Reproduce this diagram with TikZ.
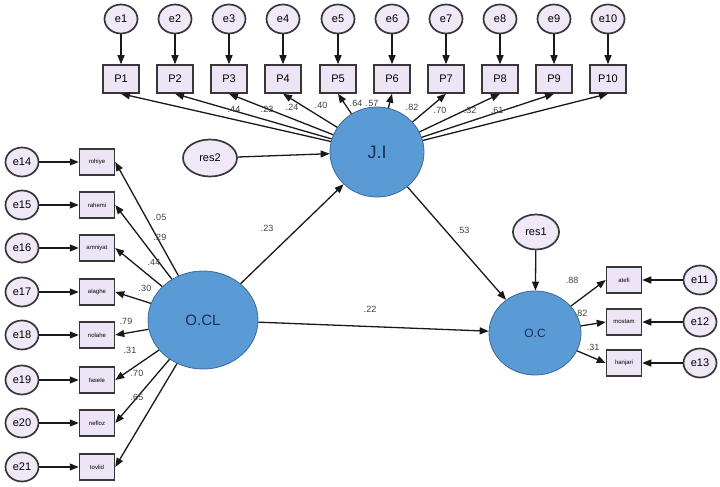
\documentclass[tikz,border=0pt]{standalone}
\usepackage{fontspec}
\setmainfont{Liberation Sans}
\usetikzlibrary{shapes.geometric, arrows.meta}

\definecolor{latentblue}{RGB}{91,155,213}
\definecolor{latentline}{RGB}{60,105,150}
\definecolor{latenttext}{RGB}{25,45,90}
\definecolor{errfill}{RGB}{241,232,247}
\definecolor{boxfill}{RGB}{237,229,245}
\definecolor{edgegray}{RGB}{55,55,55}

\begin{document}
\begin{tikzpicture}[x=1pt, y=-1pt, >={Triangle[length=9pt,width=7pt]},
    err/.style={draw=edgegray, line width=1.7pt, ellipse, fill=errfill, minimum width=33pt, minimum height=29pt, inner sep=0pt, font=\fontsize{11}{12}\selectfont},
    res/.style={err, minimum width=54pt, minimum height=37pt},
    obs/.style={draw=edgegray, line width=1.5pt, rectangle, fill=boxfill, minimum width=36pt, minimum height=28pt, inner sep=1pt, font=\fontsize{11}{12}\selectfont},
    item/.style={obs, minimum width=35pt, minimum height=26pt, font=\fontsize{6}{7}\selectfont},
    latent/.style={draw=latentline, line width=0.8pt, ellipse, fill=latentblue, inner sep=0pt, text=latenttext},
    coef/.style={inner sep=0pt, text=black!75, font=\fontsize{9}{10}\selectfont},
    path/.style={->, line width=1.3pt, draw=black!90}]
    \useasboundingbox (0,0) rectangle (720,487);

    % Latent variables
    \node[latent, minimum width=94pt, minimum height=90pt, font=\fontsize{18}{20}\selectfont] (ji) at (377,152) {J.I};
    \node[latent, minimum width=110pt, minimum height=98pt, font=\fontsize{15}{17}\selectfont] (ocl) at (203,320) {O.CL};
    \node[latent, minimum width=92pt, minimum height=84pt, font=\fontsize{12}{14}\selectfont] (oc) at (535,333) {O.C};

    % Residuals
    \node[res] (res2) at (210,158) {res2};
    \node[res, minimum width=46pt, minimum height=35pt] (res1) at (536,232) {res1};

    % J.I indicators
    \node[obs] (p1) at (121,79) {P1};
    \node[obs] (p2) at (175,79) {P2};
    \node[obs] (p3) at (229,79) {P3};
    \node[obs] (p4) at (283,79) {P4};
    \node[obs] (p5) at (338,79) {P5};
    \node[obs] (p6) at (392,79) {P6};
    \node[obs] (p7) at (446,79) {P7};
    \node[obs] (p8) at (500,79) {P8};
    \node[obs] (p9) at (554,79) {P9};
    \node[obs] (p10) at (608,79) {P10};

    \node[err] (e1) at (121,19) {e1};
    \node[err] (e2) at (175,19) {e2};
    \node[err] (e3) at (229,19) {e3};
    \node[err] (e4) at (283,19) {e4};
    \node[err] (e5) at (338,19) {e5};
    \node[err] (e6) at (392,19) {e6};
    \node[err] (e7) at (446,19) {e7};
    \node[err] (e8) at (500,19) {e8};
    \node[err] (e9) at (554,19) {e9};
    \node[err] (e10) at (608,19) {e10};

    % O.CL indicators
    \node[item] (b1) at (97,162) {rohiye};
    \node[item] (b2) at (97,205) {rahemi};
    \node[item] (b3) at (97,248) {amniyat};
    \node[item] (b4) at (97,292) {alaghe};
    \node[item] (b5) at (97,335) {nolahe};
    \node[item] (b6) at (97,380) {fasele};
    \node[item] (b7) at (97,423) {nefloz};
    \node[item] (b8) at (97,467) {tovlid};

    \node[err] (e14) at (22,162) {e14};
    \node[err] (e15) at (22,205) {e15};
    \node[err] (e16) at (22,248) {e16};
    \node[err] (e17) at (22,292) {e17};
    \node[err] (e18) at (22,335) {e18};
    \node[err] (e19) at (22,380) {e19};
    \node[err] (e20) at (22,423) {e20};
    \node[err] (e21) at (22,467) {e21};

    % O.C indicators
    \node[item] (c1) at (624,280) {atefi};
    \node[item] (c2) at (624,322) {mostam};
    \node[item] (c3) at (624,363) {hanjari};

    \node[err] (e11) at (700,280) {e11};
    \node[err] (e12) at (700,322) {e12};
    \node[err] (e13) at (700,363) {e13};

    % Error arrows
    \draw[path] (e1) -- (p1);
    \draw[path] (e2) -- (p2);
    \draw[path] (e3) -- (p3);
    \draw[path] (e4) -- (p4);
    \draw[path] (e5) -- (p5);
    \draw[path] (e6) -- (p6);
    \draw[path] (e7) -- (p7);
    \draw[path] (e8) -- (p8);
    \draw[path] (e9) -- (p9);
    \draw[path] (e10) -- (p10);
    \draw[path] (e14) -- (b1);
    \draw[path] (e15) -- (b2);
    \draw[path] (e16) -- (b3);
    \draw[path] (e17) -- (b4);
    \draw[path] (e18) -- (b5);
    \draw[path] (e19) -- (b6);
    \draw[path] (e20) -- (b7);
    \draw[path] (e21) -- (b8);
    \draw[path] (e11) -- (c1);
    \draw[path] (e12) -- (c2);
    \draw[path] (e13) -- (c3);
    \draw[path] (res2) -- (ji);
    \draw[path] (res1) -- (oc);

    % Loadings
    \draw[path] (ji) -- (p1.south);
    \draw[path] (ji) -- (p2.south);
    \draw[path] (ji) -- (p3.south);
    \draw[path] (ji) -- (p4.south);
    \draw[path] (ji) -- (p5.south);
    \draw[path] (ji) -- (p6.south);
    \draw[path] (ji) -- (p7.south);
    \draw[path] (ji) -- (p8.south);
    \draw[path] (ji) -- (p9.south);
    \draw[path] (ji) -- (p10.south);
    \draw[path] (ocl) -- (b1.east);
    \draw[path] (ocl) -- (b2.east);
    \draw[path] (ocl) -- (b3.east);
    \draw[path] (ocl) -- (b4.east);
    \draw[path] (ocl) -- (b5.east);
    \draw[path] (ocl) -- (b6.east);
    \draw[path] (ocl) -- (b7.east);
    \draw[path] (ocl) -- (b8.east);
    \draw[path] (oc) -- (c1.west);
    \draw[path] (oc) -- (c2.west);
    \draw[path] (oc) -- (c3.west);

    % Structural paths
    \draw[path] (ocl) -- (ji);
    \draw[path] (ocl) -- (oc);
    \draw[path] (ji) -- (oc);

    % Coefficients
    \node[coef] (lp1) at (234,109) {.44};
    \node[coef] (lp2) at (267,109) {.23};
    \node[coef] (lp3) at (292,107) {.24};
    \node[coef] (lp4) at (321,105) {.40};
    \node[coef] (lp5) at (356,103) {.64};
    \node[coef] (lp6) at (372,103) {.57};
    \node[coef] (lp7) at (412,107) {.82};
    \node[coef] (lp8) at (440,110) {.70};
    \node[coef] (lp9) at (470,110) {.32};
    \node[coef] (lp10) at (497,110) {.61};
    \node[coef] (lb1) at (160,217) {.05};
    \node[coef] (lb2) at (160,237) {.29};
    \node[coef] (lb3) at (154,262) {.44};
    \node[coef] (lb4) at (145,288) {.30};
    \node[coef] (lb5) at (126,321) {.79};
    \node[coef] (lb6) at (130,350) {.31};
    \node[coef] (lb7) at (137,373) {.70};
    \node[coef] (lb8) at (137,397) {.65};
    \node[coef] (lc1) at (572,280) {.88};
    \node[coef] (lc2) at (581,313) {.82};
    \node[coef] (lc3) at (593,347) {.31};
    \node[coef] (ls1) at (267,228) {.23};
    \node[coef] (ls2) at (463,230) {.53};
    \node[coef] (ls3) at (370,309) {.22};
\end{tikzpicture}
\end{document}
